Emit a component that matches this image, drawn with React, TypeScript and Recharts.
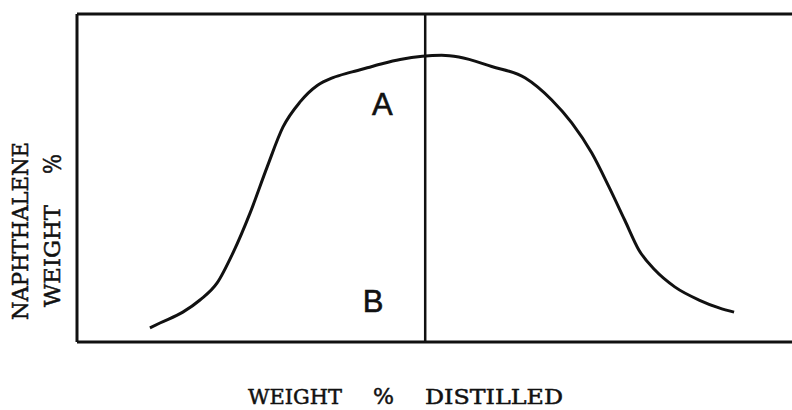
import { LineChart, Line, XAxis, YAxis, ReferenceLine, ReferenceDot } from "recharts";

// weight % distilled (x) vs naphthalene weight % (y)
const distilled = [
  10.2, 11.6, 14.8, 17.2, 19.6, 21.8, 24.2, 26.6, 28.8, 31.2, 33.6, 35.8, 38.2, 40.6, 42.8, 45.2,
  48.3, 51.0, 53.4, 58.0, 62.7, 66.4, 69.2, 72.0, 74.4, 76.6, 78.6, 80.8, 83.6, 87.0, 89.8, 91.9,
];
const naphthalene = [
  4.3, 5.8, 9.1, 12.8, 18.0, 27.1, 39.3, 53.4, 65.5, 73.2, 78.2, 80.6, 82.2, 83.6, 84.9, 86.1,
  87.1, 87.4, 86.9, 84.0, 80.5, 73.8, 66.8, 57.6, 47.3, 37.2, 28.0, 22.0, 16.8, 12.8, 10.4, 9.1,
];
const cutPoint = 48.7;
const zoneLabels = [
  { name: "A", x: 42.7, y: 72.3 },
  { name: "B", x: 41.4, y: 12.2 },
];

const data = distilled.map((x, i) => ({ x, y: naphthalene[i] }));

const INK = "#111";
const TYPE_FONT = "'DejaVu Serif', 'Liberation Serif', serif";

function ZoneLetter(props: any & { text: string }) {
  const { cx, cy, text } = props;
  if (!isFinite(cx) || !isFinite(cy)) return null;
  return (
    <text x={cx} y={cy} textAnchor="middle" dominantBaseline="central" fontSize={31} fontFamily="'Liberation Sans', Arial, sans-serif" fill={INK} stroke={INK} strokeWidth={0.6}>
      {text}
    </text>
  );
}

// typewritten axis words, each stretched to the span it has in the sketch
function TypeWord({ x, y, len, rotate, size, children }: { x: number; y: number; len: number; rotate?: boolean; size: number; children: string }) {
  return (
    <text
      transform={`translate(${x},${y})${rotate ? " rotate(-90)" : ""}`}
      textLength={len}
      lengthAdjust="spacingAndGlyphs"
      fontSize={size}
      fontFamily={TYPE_FONT}
      fill={INK}
      stroke={INK}
      strokeWidth={0.5}
    >
      {children}
    </text>
  );
}

export default function App() {
  return (
    <div style={{ position: "absolute", left: 0, top: 0, width: 792, height: 410, background: "#fff" }}>
      <LineChart width={792} height={410} data={data} margin={{ left: 77, right: 0, top: 14, bottom: 68 }}>
        <XAxis type="number" dataKey="x" domain={[0, 100]} hide />
        <YAxis type="number" domain={[0, 100]} hide />
        <ReferenceLine x={0} stroke={INK} strokeWidth={3} />
        <ReferenceLine y={0} stroke={INK} strokeWidth={3} />
        <ReferenceLine y={100} stroke={INK} strokeWidth={3} />
        <ReferenceLine x={cutPoint} stroke={INK} strokeWidth={2.5} />
        <Line type="monotone" dataKey="y" stroke={INK} strokeWidth={3} dot={false} isAnimationActive={false} />
        {zoneLabels.map((z) => (
          <ReferenceDot key={z.name} x={z.x} y={z.y} r={0} shape={(p: any) => <ZoneLetter {...p} text={z.name} />} />
        ))}
      </LineChart>
      <svg width={792} height={410} style={{ position: "absolute", left: 0, top: 0, pointerEvents: "none" }}>
        <TypeWord x={248} y={404} len={94} size={21}>WEIGHT</TypeWord>
        <TypeWord x={373} y={404} len={21} size={23}>%</TypeWord>
        <TypeWord x={425} y={404} len={138} size={21}>DISTILLED</TypeWord>
        <TypeWord x={28} y={320} len={178} size={22} rotate>NAPHTHALENE</TypeWord>
        <TypeWord x={60} y={307} len={102} size={22} rotate>WEIGHT</TypeWord>
        <TypeWord x={61} y={174} len={20} size={24} rotate>%</TypeWord>
      </svg>
    </div>
  );
}
